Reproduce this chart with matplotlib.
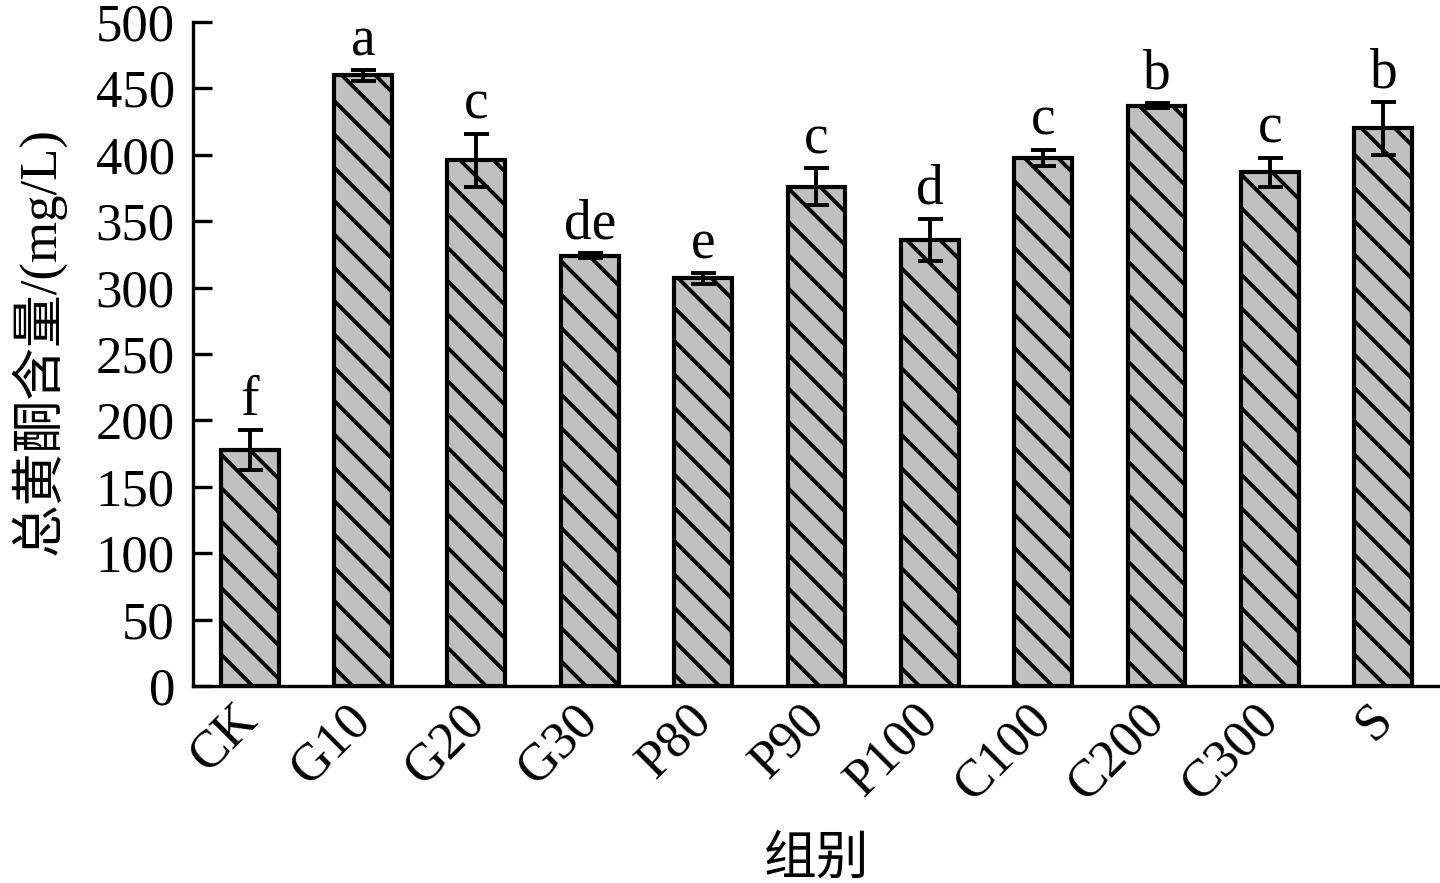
import numpy as np
import matplotlib
matplotlib.use("Agg")
import matplotlib.pyplot as plt
import matplotlib.transforms as mtransforms

# data
groups = ["CK", "G10", "G20", "G30", "P80", "P90", "P100", "C100", "C200", "C300", "S"]
means = [178, 460, 396, 324, 307, 376, 336, 398, 437, 387, 420]
errors = [15, 4, 20, 2, 4, 14, 16, 6, 2, 11, 20]
letters = ["f", "a", "c", "de", "e", "c", "d", "c", "b", "c", "b"]

plt.rcParams["font.family"] = ["Liberation Serif", "Noto Sans CJK SC"]
plt.rcParams["hatch.linewidth"] = 2.8
plt.rcParams["hatch.color"] = "black"

fig = plt.figure(figsize=(14.4, 8.83), dpi=100)
ax = fig.add_axes([0.134, 0.223, 0.866, 0.752])

x = np.arange(len(groups))
ax.bar(x, means, width=0.51, color="#c0c0c0", edgecolor="black",
       linewidth=3.0, hatch="\\", zorder=2)
ax.errorbar(x, means, yerr=errors, fmt="none", ecolor="black",
            elinewidth=2.8, capsize=9, capthick=2.8, zorder=3)

# significance letters just above the error bars
for xi, m, e, lab in zip(x, means, errors, letters):
    ax.text(xi, m + e + 2, lab, ha="center", va="bottom", fontsize=40)

ax.set_xlim(-0.5, 10.5)
ax.set_ylim(0, 500)
ax.set_yticks(np.arange(0, 501, 50))
ax.set_xticks(x)
ax.set_xticklabels([])

# rotated group labels, top-right corner just under each tick
lbl_trans = ax.get_xaxis_transform() + mtransforms.ScaledTranslation(
    -0.16, -0.09, fig.dpi_scale_trans)
for xi, g in zip(x, groups):
    ax.text(xi, 0, g, rotation=45, ha="right", va="top", rotation_mode="anchor",
            fontsize=38, transform=lbl_trans, clip_on=False)

ax.spines["top"].set_visible(False)
ax.spines["right"].set_visible(False)
ax.spines["left"].set_linewidth(2.4)
ax.spines["bottom"].set_linewidth(2.4)
ax.tick_params(axis="y", direction="in", length=14, width=2.4, labelsize=38, pad=13)
ax.tick_params(axis="x", direction="in", length=6, width=2.4)

ax.set_ylabel("总黄酮含量/(mg/L)", fontsize=38)
ax.yaxis.set_label_coords(-0.102, 0.52)
ax.set_xlabel("组别", fontsize=38)
ax.xaxis.set_label_coords(0.5, -0.262)
ax.xaxis.label.set_va("center")

fig.savefig("out.png", dpi=100)
